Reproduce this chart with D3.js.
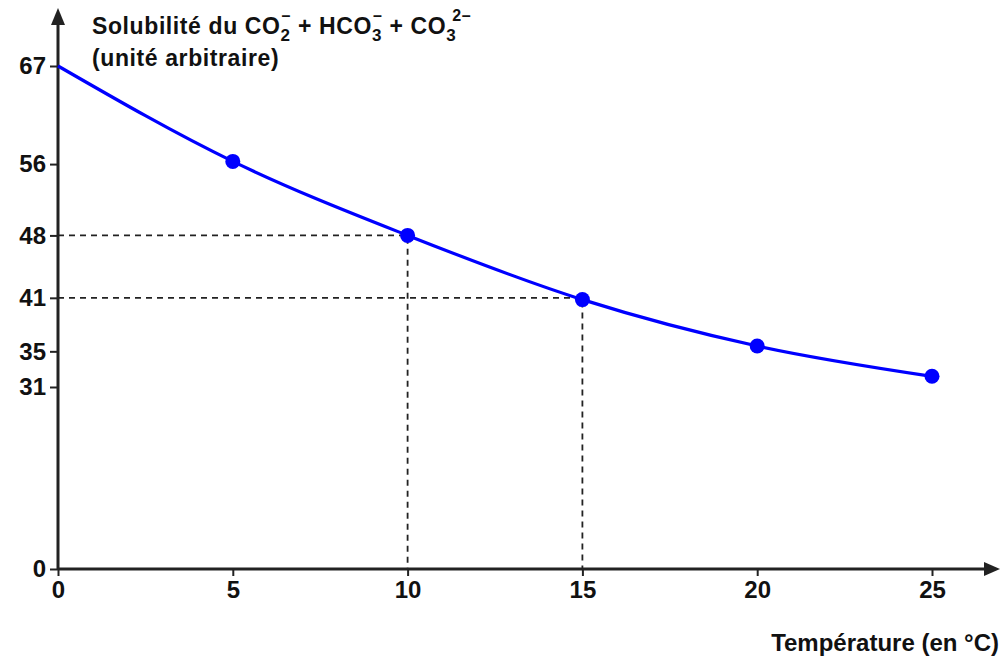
<!DOCTYPE html>
<html>
<head>
<meta charset="utf-8">
<script src="https://cdn.jsdelivr.net/npm/d3@7"></script>
<style>
body { margin: 0; background: #fff; }
text { font-family: "Liberation Sans", Arial, sans-serif; fill: #111; }
</style>
</head>
<body>
<div id="chart"></div>
<script>
// data
var temps = [0, 5, 10, 15, 20, 25];
var solub = [67, 56.3, 48, 40.8, 35.6, 32.2];
var dotTemps = [5, 10, 15, 20, 25];
var yTicks = [0, 31, 35, 41, 48, 56, 67];
var xTicks = [0, 5, 10, 15, 20, 25];
var guides = [[10, 48], [15, 41]];

var W = 1002, H = 662;
var svg = d3.select("#chart").append("svg")
    .attr("width", W).attr("height", H);

var x = d3.scaleLinear().domain([0, 25]).range([58, 932]);
// axis is stretched above 31 in the original drawing
var y = d3.scaleLinear().domain([0, 31, 67]).range([569, 387, 66]);

var ink = "#222";

// dashed guides
guides.forEach(function(g) {
    svg.append("path")
        .attr("d", "M" + x(0) + "," + y(g[1]) + "H" + x(g[0]) + "V" + y(0))
        .attr("fill", "none")
        .attr("stroke", ink)
        .attr("stroke-width", 1.8)
        .attr("stroke-dasharray", "6,5");
});

// axes
svg.append("line")
    .attr("x1", x(0)).attr("x2", 990)
    .attr("y1", y(0)).attr("y2", y(0))
    .attr("stroke", ink).attr("stroke-width", 3);
svg.append("path")
    .attr("d", "M1000," + y(0) + "l-16,-7l0,14z").attr("fill", ink);

svg.append("line")
    .attr("x1", x(0)).attr("x2", x(0))
    .attr("y1", y(0)).attr("y2", 20)
    .attr("stroke", ink).attr("stroke-width", 3);
svg.append("path")
    .attr("d", "M" + x(0) + ",8l-7,17l14,0z").attr("fill", ink);

var yAxis = d3.axisLeft(y).tickValues(yTicks).tickSize(8).tickPadding(4);
var gy = svg.append("g").attr("transform", "translate(" + x(0) + ",0)").call(yAxis);
gy.select(".domain").remove();
gy.selectAll(".tick line").attr("stroke", ink).attr("stroke-width", 2);
gy.selectAll(".tick text")
    .style("font-size", "24px").style("font-weight", "bold").attr("fill", "#111");

var xAxis = d3.axisBottom(x).tickValues(xTicks).tickSize(7).tickPadding(5);
var gx = svg.append("g").attr("transform", "translate(0," + y(0) + ")").call(xAxis);
gx.select(".domain").remove();
gx.selectAll(".tick line").attr("stroke", ink).attr("stroke-width", 2);
gx.selectAll(".tick text")
    .style("font-size", "24px").style("font-weight", "bold").attr("fill", "#111");

// curve
var pts = temps.map(function(t, i) { return [t, solub[i]]; });
var line = d3.line()
    .x(function(d) { return x(d[0]); })
    .y(function(d) { return y(d[1]); })
    .curve(d3.curveMonotoneX);
svg.append("path")
    .datum(pts)
    .attr("d", line)
    .attr("fill", "none")
    .attr("stroke", "#0000ff")
    .attr("stroke-width", 3.2);

svg.selectAll("circle.pt")
    .data(pts.filter(function(d) { return dotTemps.indexOf(d[0]) >= 0; }))
    .enter().append("circle")
    .attr("class", "pt")
    .attr("cx", function(d) { return x(d[0]); })
    .attr("cy", function(d) { return y(d[1]); })
    .attr("r", 7.5)
    .attr("fill", "#0000ff");

// titles
var t1 = svg.append("text").attr("x", 92).attr("y", 34)
    .style("font-size", "23px").style("font-weight", "bold")
    .style("letter-spacing", "0.6px");
function chem(base, sub, sup, supDx) {
    t1.append("tspan").text(base);
    t1.append("tspan").attr("dy", 7).style("font-size", "17px").text(sub);
    t1.append("tspan").attr("dx", supDx).attr("dy", -20).style("font-size", "16px").text(sup);
    t1.append("tspan").attr("dy", 13).text("  ");
}
t1.append("tspan").text("Solubilité du ");
chem("CO", "2", "\u2013", -9);
t1.append("tspan").text("+  ");
chem("HCO", "3", "\u2013", -9);
t1.append("tspan").text("+  ");
chem("CO", "3", "2\u2013", -4);

svg.append("text").attr("x", 92).attr("y", 66)
    .style("font-size", "23px").style("font-weight", "bold")
    .style("letter-spacing", "0.6px")
    .text("(unité arbitraire)");

svg.append("text").attr("x", 999).attr("y", 651)
    .attr("text-anchor", "end")
    .style("font-size", "24px").style("font-weight", "bold")
    .text("Température (en °C)");
</script>
</body>
</html>
